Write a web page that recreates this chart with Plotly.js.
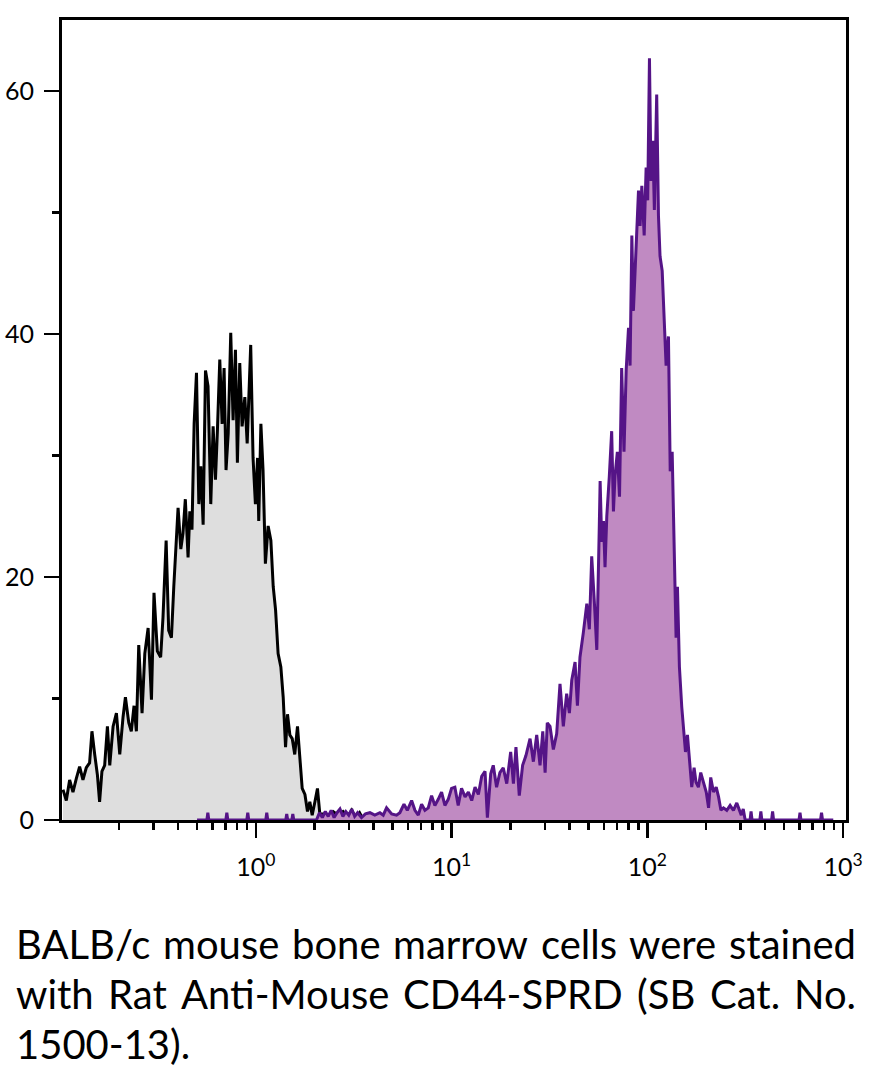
<!DOCTYPE html>
<html><head><meta charset="utf-8">
<script src="https://cdn.plot.ly/plotly-3.0.1.min.js"></script>
<style>html,body{margin:0;padding:0;background:#fff;}#chart{width:876px;height:1071px;}</style>
</head><body><div id="chart"></div>
<script>
// Isotype control (grey) histogram: x as log10(fluorescence), y = counts
const isoLog10X = [-0.985,-0.968,-0.951,-0.934,-0.917,-0.900,-0.883,-0.866,-0.849,-0.837,-0.823,-0.809,-0.798,-0.786,-0.772,-0.758,-0.746,-0.729,-0.712,-0.695,-0.678,-0.666,-0.649,-0.636,-0.622,-0.610,-0.598,-0.581,-0.567,-0.550,-0.533,-0.520,-0.503,-0.486,-0.474,-0.458,-0.445,-0.431,-0.419,-0.406,-0.397,-0.383,-0.372,-0.360,-0.346,-0.337,-0.326,-0.315,-0.303,-0.291,-0.281,-0.269,-0.257,-0.244,-0.230,-0.218,-0.206,-0.196,-0.184,-0.172,-0.162,-0.152,-0.141,-0.128,-0.116,-0.104,-0.094,-0.082,-0.070,-0.056,-0.044,-0.026,-0.014,-0.002,0.009,0.015,0.026,0.037,0.049,0.063,0.077,0.089,0.101,0.114,0.128,0.140,0.152,0.162,0.174,0.186,0.199,0.213,0.225,0.237,0.251,0.264,0.276,0.288,0.302,0.315,0.327,0.344,0.370,0.395,0.421,0.446,0.470,0.490,0.510,0.530,0.550];
const isoCounts = [2.5,1.6,3.3,2.3,3.4,4.4,3.3,4.3,4.7,7.3,5.4,3.7,1.5,4.0,4.5,7.7,4.5,7.7,8.8,5.4,8.5,10.1,8.0,7.3,9.4,7.3,14.4,8.8,13.7,15.8,9.9,18.7,13.9,13.4,16.7,23.0,15.6,15.0,19.2,22.5,25.7,22.3,23.6,26.4,21.6,25.4,23.9,32.6,36.8,26.0,29.1,24.3,37.0,35.7,26.0,32.4,28.0,32.1,37.9,32.6,37.2,28.8,31.8,40.1,32.9,38.7,29.4,37.6,32.4,34.8,31.0,39.1,29.8,26.0,29.8,24.6,32.6,28.8,21.1,24.2,23.0,19.2,17.3,13.7,12.6,10.1,6.0,8.7,7.0,6.7,5.4,7.7,5.4,2.6,2.1,0.7,1.5,0.4,1.5,2.6,0.5,0.5,0.4,0.7,0.4,0.7,0.3,0.8,0.2,0.6,0];

// CD44-SPRD stained (purple) histogram
const cd44Log10X = [-0.300,-0.250,-0.245,-0.240,-0.153,-0.148,-0.143,-0.046,-0.041,-0.036,0.051,0.056,0.061,0.153,0.158,0.163,0.184,0.189,0.194,0.310,0.325,0.340,0.355,0.370,0.385,0.400,0.415,0.430,0.445,0.460,0.475,0.490,0.505,0.520,0.540,0.560,0.583,0.608,0.634,0.651,0.668,0.694,0.719,0.736,0.757,0.774,0.796,0.813,0.830,0.847,0.864,0.881,0.898,0.915,0.932,0.949,0.966,0.983,1.000,1.017,1.034,1.051,1.069,1.086,1.103,1.120,1.137,1.154,1.171,1.183,1.200,1.213,1.230,1.247,1.264,1.282,1.302,1.316,1.329,1.346,1.363,1.380,1.401,1.418,1.435,1.452,1.466,1.478,1.489,1.503,1.520,1.537,1.554,1.571,1.588,1.602,1.614,1.631,1.643,1.656,1.673,1.691,1.704,1.716,1.730,1.742,1.755,1.759,1.767,1.776,1.784,1.793,1.806,1.818,1.827,1.835,1.847,1.858,1.869,1.881,1.892,1.904,1.912,1.921,1.929,1.943,1.955,1.963,1.972,1.984,1.994,2.002,2.011,2.019,2.028,2.036,2.048,2.057,2.065,2.076,2.086,2.096,2.108,2.117,2.127,2.137,2.147,2.154,2.164,2.176,2.185,2.195,2.205,2.215,2.227,2.239,2.249,2.261,2.273,2.287,2.301,2.313,2.324,2.338,2.352,2.364,2.376,2.389,2.406,2.423,2.440,2.457,2.471,2.480,2.490,2.500,2.525,2.530,2.535,2.575,2.580,2.585,2.635,2.640,2.645,2.775,2.780,2.785,2.885,2.890,2.895,2.950];
const cd44Counts = [0,0,0.6,0,0,0.6,0,0,0.6,0,0,0.6,0,0,0.5,0,0,0.5,0,0,0.6,0.2,0.7,0.3,0.8,0.2,0.6,0.9,0.3,0.7,0.4,0.9,0.3,0.6,0.2,0.5,0.6,0.4,0.6,0.4,1.0,0.5,0.4,0.6,1.3,0.8,1.6,0.8,0.4,1.3,0.8,1.0,2.0,1.2,1.7,2.3,1.2,1.7,2.6,2.7,1.2,2.6,1.9,2.3,1.6,2.7,2.1,3.6,4.0,0.2,3.8,4.5,2.7,3.9,4.3,3.0,5.6,3.0,6.0,2.0,4.5,5.3,6.7,4.8,7.0,4.5,7.3,3.9,8.0,7.7,5.8,7.1,11.2,7.7,10.4,8.8,11.5,13.0,9.4,13.4,15.4,17.8,15.7,21.7,17.8,14.0,24.4,27.9,22.9,24.6,20.8,25.0,28.3,32.0,25.4,28.3,30.3,26.6,37.2,30.3,37.0,40.5,37.4,48.1,41.9,46.9,51.8,48.9,52.2,48.1,53.7,51.0,62.7,52.6,55.9,50.2,59.7,49.7,46.4,45.2,41.5,37.4,39.8,28.7,30.3,22.9,15.0,19.2,12.6,9.3,7.2,5.6,7.0,4.7,2.7,4.3,3.1,2.7,3.9,3.1,2.3,1.0,3.5,2.3,2.7,1.9,0.8,1.0,0.8,1.2,0.8,1.4,0.8,0.4,0.9,0,0,0.7,0,0,0.7,0,0,0.7,0,0,0.6,0,0,0.6,0,0];

const xTickVals = [1, 10, 100, 1000];
const xTickText = ['10<sup>0</sup>', '10<sup>1</sup>', '10<sup>2</sup>', '10<sup>3</sup>'];
const yTickVals = [0, 20, 40, 60];
const yTickText = ['0', '20', '40', '60'];
const yMinorVals = [10, 30, 50];
const captionLines = [
  ['BALB/c', 'mouse', 'bone', 'marrow', 'cells', 'were', 'stained'],
  ['with', 'Rat', 'Anti-Mouse', 'CD44-SPRD', '(SB', 'Cat.', 'No.'],
  ['1500-13).']
];

// minor x ticks (2..9 per decade)
const xMinorVals = [];
[0.1, 1, 10, 100].forEach(d => { for (let k = 2; k <= 9; k++) xMinorVals.push(k * d); });

const toLin = a => a.map(v => Math.pow(10, v));

const traces = [
  {x: toLin(isoLog10X), y: isoCounts, type: 'scatter', mode: 'lines', fill: 'tozeroy',
   fillcolor: '#dedede', line: {color: '#000000', width: 3}, hoverinfo: 'skip'},
  {x: toLin(cd44Log10X), y: cd44Counts, type: 'scatter', mode: 'lines', fill: 'tozeroy',
   fillcolor: '#c08ac2', line: {color: '#551487', width: 3}, hoverinfo: 'skip'}
];

// Plot area geometry (pixels) for caption placement
const W = 876, H = 1071, L = 62, R = 30, T = 20, B = 251;
const pw = W - L - R, ph = H - T - B;
const capFont = 'Lato';
const capSize = 40;
const ctx = document.createElement('canvas').getContext('2d');
ctx.font = capSize + 'px ' + capFont;
const leftPx = 15, rightPx = 855;
const lineCentersPx = [944, 994, 1044];
const annotations = [];
captionLines.forEach((words, li) => {
  const widths = words.map(w => ctx.measureText(w).width);
  const total = widths.reduce((a, b) => a + b, 0);
  const last = li === captionLines.length - 1;
  const gap = (!last && words.length > 1) ? (rightPx - leftPx - total) / (words.length - 1) : ctx.measureText(' ').width;
  let px = leftPx;
  words.forEach((w, i) => {
    annotations.push({
      text: w, xref: 'paper', yref: 'paper',
      x: (px - L) / pw, y: (H - B - lineCentersPx[li]) / ph,
      xanchor: 'left', yanchor: 'middle', showarrow: false, borderpad: 0,
      font: {family: capFont, size: capSize, color: '#000'}
    });
    px += widths[i] + gap;
  });
});

const layout = {
  width: W, height: H,
  margin: {l: L, r: R, t: T, b: B, pad: 0},
  paper_bgcolor: '#ffffff', plot_bgcolor: '#ffffff',
  showlegend: false,
  xaxis: {
    type: 'log', range: [-0.99, 3.015],
    tickmode: 'array', tickvals: xTickVals, ticktext: xTickText,
    ticks: 'outside', ticklen: 15, tickwidth: 2.5, tickcolor: '#000',
    showline: true, linewidth: 3, linecolor: '#000', mirror: true,
    showgrid: false, zeroline: false, ticklabelstandoff: 8,
    tickfont: {family: 'Lato', size: 25, color: '#000'},
    minor: {tickmode: 'array', tickvals: xMinorVals, ticks: 'outside', ticklen: 7, tickwidth: 2.5, tickcolor: '#000', showgrid: false}
  },
  yaxis: {
    range: [0, 65.84],
    tickmode: 'array', tickvals: yTickVals, ticktext: yTickText,
    ticks: 'outside', ticklen: 15, tickwidth: 2.5, tickcolor: '#000',
    showline: true, linewidth: 3, linecolor: '#000', mirror: true,
    showgrid: false, zeroline: false, ticklabelstandoff: 5,
    tickfont: {family: 'Lato', size: 25, color: '#000'},
    minor: {tickmode: 'array', tickvals: yMinorVals, ticks: 'outside', ticklen: 7, tickwidth: 2.5, tickcolor: '#000', showgrid: false}
  },
  annotations: annotations
};

Plotly.newPlot('chart', traces, layout, {displayModeBar: false, staticPlot: true});
</script>
</body></html>
